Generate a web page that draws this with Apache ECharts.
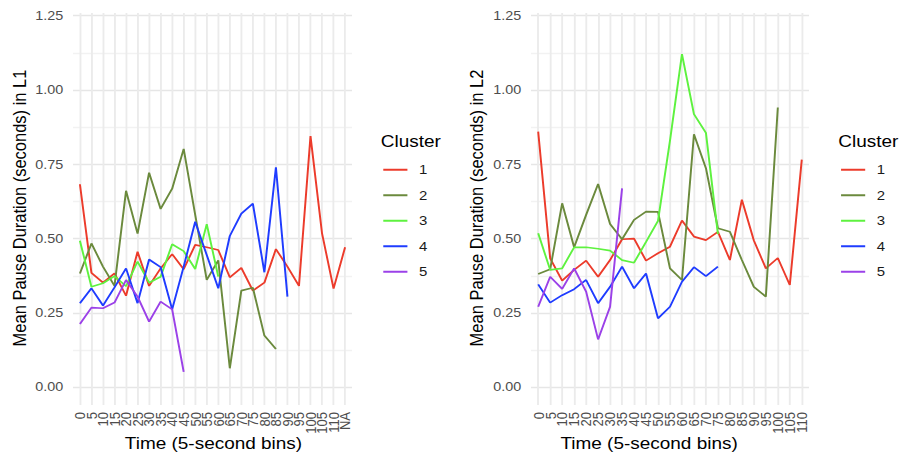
<!DOCTYPE html>
<html>
<head>
<meta charset="utf-8">
<script src="https://cdn.jsdelivr.net/npm/echarts/dist/echarts.min.js"></script>
<style>
  html, body { margin: 0; padding: 0; background: #fff; overflow: hidden; }
  /* the reference is stretched sideways, so the chart is drawn narrower and widened */
  #chart { width: 782px; height: 455px; transform: scaleX(1.1496); transform-origin: 0 0; }
</style>
</head>
<body>
<div id="chart"></div>
<script>
const timeL1 = ['0','5','10','15','20','25','30','35','40','45','50','55','60','65','70','75','80','85','90','95','100','105','110','NA'];
const timeL2 = ['0','5','10','15','20','25','30','35','40','45','50','55','60','65','70','75','80','85','90','95','100','105','110'];
const clusters = ['1', '2', '3', '4', '5'];
const yLabels = [0, 0.25, 0.5, 0.75, 1, 1.25];
const yLines = [0, 0.125, 0.25, 0.375, 0.5, 0.625, 0.75, 0.875, 1, 1.125, 1.25];

// L1, one array per cluster, starting at bin 0
const l1c1 = [0.683, 0.385, 0.352, 0.383, 0.308, 0.456, 0.341, 0.400, 0.448, 0.397, 0.479, 0.471, 0.462, 0.370, 0.402, 0.325, 0.352, 0.465, 0.406, 0.341, 0.845, 0.518, 0.332, 0.471];
const l1c2 = [0.383, 0.484, 0.406, 0.341, 0.661, 0.517, 0.722, 0.600, 0.668, 0.802, 0.580, 0.361, 0.427, 0.064, 0.325, 0.335, 0.174, 0.129];
const l1c3 = [0.493, 0.338, 0.350, 0.374, 0.340, 0.423, 0.352, 0.372, 0.481, 0.458, 0.398, 0.549, 0.372];
const l1c4 = [0.283, 0.333, 0.275, 0.336, 0.400, 0.283, 0.430, 0.404, 0.262, 0.406, 0.557, 0.445, 0.333, 0.509, 0.584, 0.618, 0.387, 0.740, 0.305];
const l1c5 = [0.213, 0.268, 0.266, 0.285, 0.361, 0.305, 0.221, 0.288, 0.262, 0.052];

// L2
const l2c1 = [0.860, 0.434, 0.359, 0.395, 0.426, 0.372, 0.428, 0.498, 0.500, 0.426, 0.451, 0.473, 0.561, 0.507, 0.495, 0.523, 0.428, 0.631, 0.494, 0.400, 0.435, 0.344, 0.766];
const l2c2 = [0.381, 0.397, 0.619, 0.471, 0.580, 0.684, 0.549, 0.498, 0.563, 0.591, 0.590, 0.400, 0.361, 0.851, 0.737, 0.535, 0.523, 0.428, 0.338, 0.305, 0.941];
const l2c3 = [0.518, 0.395, 0.400, 0.471, 0.471, 0.466, 0.460, 0.428, 0.419, 0.489, 0.560, 0.830, 1.121, 0.919, 0.856, 0.515];
const l2c4 = [0.346, 0.285, 0.310, 0.330, 0.361, 0.283, 0.338, 0.406, 0.333, 0.383, 0.232, 0.271, 0.355, 0.404, 0.374, 0.406];
const l2c5 = [0.271, 0.372, 0.331, 0.400, 0.322, 0.161, 0.271, 0.669];

const colors = ['#ec3b2b', '#6b8a3d', '#5ef23f', '#1f3cff', '#9b41e8'];
const FONT = '"Liberation Sans", Arial, sans-serif';

// labels overlap, so even and odd bins go on two stacked axes (echarts would hide some otherwise)
const makeX = (gridIndex, cats, odd) => {
  const idx = cats.map((c, i) => i);
  return {
    type: 'value', gridIndex: gridIndex, position: 'bottom',
    min: -0.6, max: cats.length - 0.4,
    axisLine: { show: false, onZero: false },
    axisTick: { show: false, customValues: idx },
    axisLabel: {
      customValues: idx.filter(i => i % 2 === (odd ? 1 : 0)),
      rotate: 90, margin: 7, hideOverlap: false,
      showMinLabel: true, showMaxLabel: true,
      color: '#4d4d4d', fontSize: 13, fontFamily: FONT,
      formatter: v => cats[Math.round(v)]
    },
    splitLine: { show: !odd, lineStyle: { color: '#ebebeb', width: 1.6 } }
  }
}

const makeY = (gridIndex) => {
  return {
    type: 'value', gridIndex: gridIndex,
    min: -0.0595, max: 1.259,
    axisLine: { show: false, onZero: false },
    axisTick: { show: false, customValues: yLines },
    axisLabel: {
      customValues: yLabels, margin: 8.5,
      showMinLabel: true, showMaxLabel: true,
      color: '#4d4d4d', fontSize: 12.5, fontFamily: FONT,
      formatter: v => v.toFixed(2)
    },
    splitLine: { show: true, lineStyle: { color: ['#e6e6e6', '#f2f2f2'], width: 1.3 } }
  }
}

const makeLine = (name, arr, k, panel) => ({
  name: name, type: 'line', xAxisIndex: panel * 2, yAxisIndex: panel,
  data: arr.map((v, i) => [i, v]),
  symbol: 'none', showSymbol: false,
  lineStyle: { width: 1.7, color: colors[k] },
  itemStyle: { color: colors[k] },
  emphasis: { disabled: true }
})

const makeLegend = (left) => ({
  orient: 'vertical', left: left, top: 157, padding: 0,
  itemWidth: 21, itemHeight: 2, itemGap: 0, icon: 'rect',
  selectedMode: false, data: clusters,
  textStyle: { color: '#1a1a1a', fontSize: 13, fontFamily: FONT, lineHeight: 25.5, padding: [0, 0, 0, 5] }
})

const textItem = (x, y, text, rot, align) => ({
  type: 'text', x: x, y: y, rotation: rot,
  style: { text: text, font: '16.5px ' + FONT, fill: '#000', align: align, verticalAlign: 'middle' }
})

let option = {
  animation: false,
  backgroundColor: '#fff',
  grid: [
    { left: 63.5, top: 13, width: 242.7, height: 392 },
    { left: 461.9, top: 13, width: 241.8, height: 392 }
  ],
  xAxis: [makeX(0, timeL1, false), makeX(0, timeL1, true), makeX(1, timeL2, false), makeX(1, timeL2, true)],
  yAxis: [makeY(0), makeY(1)],
  legend: [makeLegend(333.4), makeLegend(731.6)],
  graphic: [
    textItem(17.4, 208, 'Mean Pause Duration (seconds) in L1', Math.PI / 2, 'center'),
    textItem(414.7, 208, 'Mean Pause Duration (seconds) in L2', Math.PI / 2, 'center'),
    textItem(185.7, 443, 'Time (5-second bins)', 0, 'center'),
    textItem(564.6, 443, 'Time (5-second bins)', 0, 'center'),
    textItem(331.2, 141.7, 'Cluster', 0, 'left'),
    textItem(729.2, 141.7, 'Cluster', 0, 'left')
  ],
  series: [
    makeLine('1', l1c1, 0, 0),
    makeLine('2', l1c2, 1, 0),
    makeLine('3', l1c3, 2, 0),
    makeLine('4', l1c4, 3, 0),
    makeLine('5', l1c5, 4, 0),
    makeLine('1', l2c1, 0, 1),
    makeLine('2', l2c2, 1, 1),
    makeLine('3', l2c3, 2, 1),
    makeLine('4', l2c4, 3, 1),
    makeLine('5', l2c5, 4, 1)
  ]
}

const myChart = echarts.init(document.getElementById('chart'), null, { renderer: 'svg' })
myChart.setOption(option)
</script>
</body>
</html>
